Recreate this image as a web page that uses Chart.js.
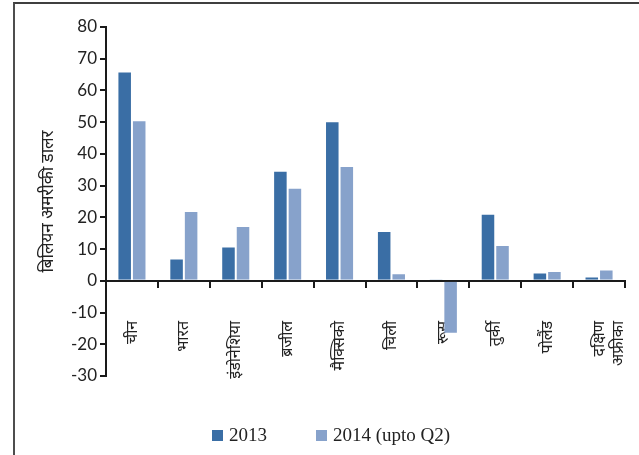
<!DOCTYPE html>
<html>
<head>
<meta charset="utf-8">
<script src="https://cdn.jsdelivr.net/npm/chart.js@4.4.0/dist/chart.umd.min.js"></script>
<style>
    html, body { margin: 0; padding: 0; background: #fff; }
    #wrap { position: relative; width: 639px; height: 455px; overflow: hidden; }
    #chart { position: absolute; left: 0; top: 0; }
    #frame {
        position: absolute; left: 13px; top: 2px; right: -10px; bottom: -10px;
        border-left: 2px solid #4d4d4d; border-top: 2px solid #3f3f3f;
        pointer-events: none;
    }
    #legend {
        position: absolute; left: 212px; top: 424px;
        display: flex; align-items: center;
        font-family: 'Liberation Serif', 'DejaVu Serif', serif; font-size: 19px; color: #222;
    }
    .item { display: flex; align-items: center; margin-right: 49px; }
    .box { width: 11px; height: 11px; margin-right: 6px; }
</style>
</head>
<body>
<div id="wrap">
    <canvas id="chart" width="639" height="455"></canvas>
    <div id="frame"></div>
    <div id="legend"></div>
</div>
<script>
const paises = ['चीन', 'भारत', 'इंडोनेशिया', 'ब्रजील', 'मैक्सिको', 'चिली', 'रूस', 'तुर्की', 'पोलैंड', ['दक्षिण', 'अफ्रीका']];
const valores2013 = [66, 7, 10.8, 34.7, 50.3, 15.7, 0.5, 21.1, 2.6, 1.4];
const valores2014 = [50.6, 22, 17.3, 29.3, 36.2, 2.4, -16.7, 11.3, 3.1, 3.6];
const ticksY = { min: -30, max: 80, paso: 10 };

const colores = ['#3a6ea5', '#87a2cb'];
const fuenteNum = "'Lato', 'Open Sans', sans-serif";
const fuenteDeva = "'Noto Sans', 'Noto Sans Devanagari', 'Lohit Devanagari', sans-serif";

const grafica = new Chart(document.getElementById('chart'), {
    type: 'bar',
    data: {
        labels: paises,
        datasets: [{
            label: '2013',
            data: valores2013,
            backgroundColor: colores[0],
            borderColor: 'rgba(255,255,255,0.45)',
            borderWidth: 1
        }, {
            label: '2014 (upto Q2)',
            data: valores2014,
            backgroundColor: colores[1],
            borderColor: 'rgba(255,255,255,0.45)',
            borderWidth: 1
        }]
    },
    options: {
        responsive: false,
        animation: false,
        layout: { autoPadding: false, padding: { left: 34, right: 14, top: 27, bottom: 79 } },
        datasets: { bar: { categoryPercentage: 0.56, barPercentage: 1 } },
        plugins: {
            legend: { display: false },
            tooltip: { enabled: false }
        },
        scales: {
            x: {
                position: { y: 0 },
                afterFit: (escala) => { escala.paddingLeft = 0; escala.paddingRight = 0; },
                border: { color: '#1a1a1a', width: 2 },
                grid: { drawOnChartArea: false, drawTicks: true, tickLength: 6, color: '#1a1a1a', lineWidth: 2 },
                ticks: {
                    minRotation: 90, maxRotation: 90, padding: 34,
                    color: '#222', font: { family: fuenteDeva, size: 16 }
                }
            },
            y: {
                min: ticksY.min,
                max: ticksY.max,
                afterFit: (escala) => { escala.width = 72; },
                border: { color: '#1a1a1a', width: 2 },
                grid: { drawOnChartArea: false, drawTicks: true, tickLength: 6, color: '#1a1a1a', lineWidth: 2 },
                ticks: {
                    stepSize: ticksY.paso, padding: 3,
                    color: '#222', font: { family: fuenteNum, size: 17 }
                },
                title: {
                    display: true,
                    text: 'बिलियन अमरीकी डालर',
                    color: '#222',
                    font: { family: fuenteDeva, size: 17 }
                }
            }
        }
    }
});

// leyenda en HTML, a partir de los datasets
const leyenda = document.getElementById('legend');
grafica.data.datasets.forEach((ds) => {
    const item = document.createElement('div');
    item.className = 'item';
    const caja = document.createElement('span');
    caja.className = 'box';
    caja.style.background = ds.backgroundColor;
    const texto = document.createElement('span');
    texto.textContent = ds.label;
    item.appendChild(caja);
    item.appendChild(texto);
    leyenda.appendChild(item);
});
</script>
</body>
</html>
